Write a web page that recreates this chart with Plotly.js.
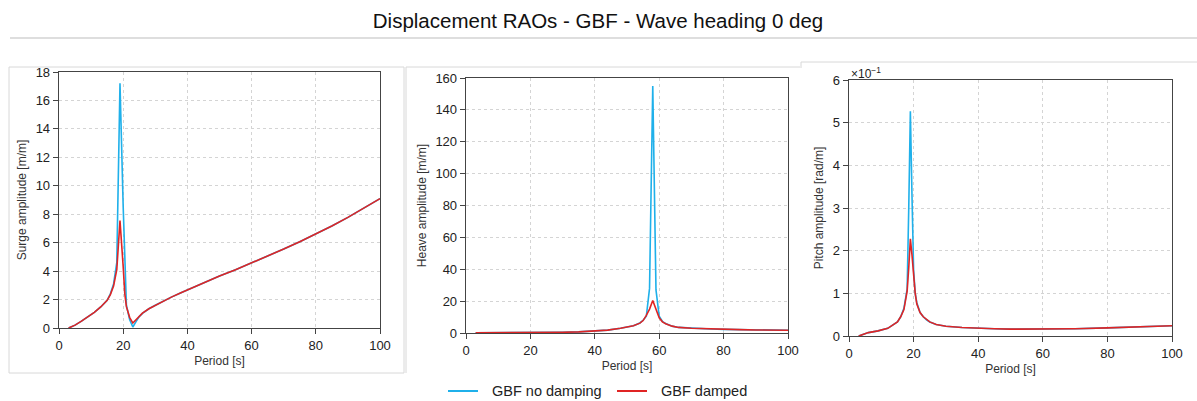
<!DOCTYPE html>
<html>
<head>
<meta charset="utf-8">
<script src="https://cdn.plot.ly/plotly-3.0.1.min.js"></script>
<style>html,body{margin:0;padding:0;background:#fff;}#chart{width:1197px;height:401px;}</style>
</head>
<body>
<div id="chart"></div>
<script>
// ---- Data ----
const surgePeriod   = [3,5,7,9,11,13,15,16,17,18,19,20,20.5,21,22,23,24,25,26,28,30,32,35,38,40,45,50,55,60,65,70,75,80,85,90,95,100];
const surgeNoDamp   = [0,0.2,0.48,0.78,1.1,1.48,1.95,2.4,3.1,4.6,17.2,8.5,4.5,1.6,0.6,0.07,0.45,0.8,1.03,1.35,1.6,1.85,2.17,2.48,2.68,3.17,3.65,4.1,4.57,5.05,5.55,6.07,6.6,7.17,7.78,8.42,9.1];
const surgeDamped   = [0,0.2,0.48,0.78,1.1,1.48,1.95,2.35,2.95,4.1,7.55,4.3,2.4,1.5,0.75,0.35,0.6,0.85,1.05,1.35,1.6,1.85,2.17,2.48,2.68,3.17,3.65,4.1,4.57,5.05,5.55,6.07,6.6,7.17,7.78,8.42,9.1];

const heavePeriod   = [3,5,10,15,20,25,30,35,40,44,48,50,52,54,55,56,57,58,59,60,61,62,64,66,70,76,80,85,90,95,100];
const heaveNoDamp   = [0.1,0.1,0.15,0.2,0.25,0.3,0.45,0.7,1.2,1.8,3.0,3.6,4.6,6.3,8.0,10.5,28,155,27,10.5,7.3,5.9,4.3,3.5,3.0,2.5,2.3,2.1,1.9,1.8,1.7];
const heaveDamped   = [0.1,0.1,0.15,0.2,0.25,0.3,0.45,0.7,1.2,1.8,3.0,3.6,4.6,6.2,7.8,11,15,20.4,15,9.5,7.0,5.8,4.3,3.5,3.0,2.5,2.3,2.1,1.9,1.8,1.7];

const pitchPeriod   = [3,4,6,9,12,15,16,17,18,18.5,19,19.5,20,20.5,21,22,23,24,25,27,30,35,40,45,50,60,70,80,90,100];
const pitchNoDamp   = [0,0.003,0.008,0.012,0.018,0.033,0.045,0.065,0.11,0.30,0.527,0.33,0.155,0.1,0.078,0.055,0.045,0.038,0.033,0.027,0.023,0.02,0.018,0.017,0.016,0.016,0.017,0.019,0.021,0.024];
const pitchDamped   = [0,0.003,0.008,0.012,0.018,0.033,0.045,0.062,0.105,0.16,0.228,0.19,0.135,0.1,0.075,0.055,0.045,0.038,0.033,0.027,0.023,0.02,0.018,0.017,0.016,0.016,0.017,0.019,0.021,0.024];

const xTicks = [0,20,40,60,80,100];
const pitchTickVals = [0,0.1,0.2,0.3,0.4,0.5,0.6];
const pitchTickText = ['0','1','2','3','4','5','6'];

const seriesNames = ['GBF no damping','GBF damped'];
const blue = '#1fb0ea', red = '#e02424';

const W = 1197, H = 401;
const px = v => v / W;
const py = v => 1 - v / H;
const FF = 'Arial, Liberation Sans, sans-serif';

function tr(x, y, name, color, xa, ya) {
  return {x: x, y: y, name: name, type: 'scatter', mode: 'lines',
    line: {color: color, width: 1.6}, xaxis: xa, yaxis: ya, showlegend: false};
}

const data = [
  tr(surgePeriod, surgeNoDamp, seriesNames[0], blue, 'x', 'y'),
  tr(surgePeriod, surgeDamped, seriesNames[1], red, 'x', 'y'),
  tr(heavePeriod, heaveNoDamp, seriesNames[0], blue, 'x2', 'y2'),
  tr(heavePeriod, heaveDamped, seriesNames[1], red, 'x2', 'y2'),
  tr(pitchPeriod, pitchNoDamp, seriesNames[0], blue, 'x3', 'y3'),
  tr(pitchPeriod, pitchDamped, seriesNames[1], red, 'x3', 'y3')
];

const tickFont = {family: FF, size: 13, color: '#222'};
const titleFont = {family: FF, size: 12, color: '#333'};

function xax(dom, anchor) {
  return {domain: dom, anchor: anchor, range: [0, 100], tickvals: xTicks,
    showline: true, mirror: true, linecolor: '#444', linewidth: 1.3,
    ticks: 'outside', ticklen: 5, tickcolor: '#444', tickfont: tickFont,
    showgrid: true, gridcolor: '#d4d4d4', griddash: 'dot', gridwidth: 1,
    zeroline: false, automargin: false,
    title: {text: 'Period [s]', font: titleFont, standoff: 4}};
}
function yax(dom, anchor, range, title, extra) {
  return Object.assign({domain: dom, anchor: anchor, range: range,
    showline: true, mirror: true, linecolor: '#444', linewidth: 1.3,
    ticks: 'outside', ticklen: 5, tickcolor: '#444', tickfont: tickFont,
    showgrid: true, gridcolor: '#d4d4d4', griddash: 'dot', gridwidth: 1,
    zeroline: false, automargin: false,
    title: {text: title, font: titleFont, standoff: 6}}, extra || {});
}

// custom legend (line sample + text) placed in paper coordinates
const legendItems = [
  {name: seriesNames[0], color: blue, lx0: 448, lx1: 478, tx: 490},
  {name: seriesNames[1], color: red,  lx0: 617, lx1: 647, tx: 659}
];
const legendY = 391;

const shapes = [
  {type: 'line', xref: 'paper', yref: 'paper', x0: px(10), x1: 1, y0: py(38), y1: py(38),
   line: {color: '#bdbdbd', width: 1.2}},
  {type: 'rect', xref: 'paper', yref: 'paper', x0: px(9), x1: px(404), y0: py(373), y1: py(67),
   line: {color: '#d8d8d8', width: 1}},
  {type: 'line', xref: 'paper', yref: 'paper', x0: px(406), x1: px(800), y0: py(67), y1: py(67),
   line: {color: '#d8d8d8', width: 1}},
  {type: 'line', xref: 'paper', yref: 'paper', x0: px(406), x1: px(406), y0: py(67), y1: py(373),
   line: {color: '#d8d8d8', width: 1}},
  {type: 'line', xref: 'paper', yref: 'paper', x0: px(801), x1: 1, y0: py(62), y1: py(62),
   line: {color: '#d8d8d8', width: 1}},
  {type: 'line', xref: 'paper', yref: 'paper', x0: px(801), x1: px(801), y0: py(62), y1: py(68),
   line: {color: '#d8d8d8', width: 1}}
];
const annotations = [
  {text: '×10<sup>−1</sup>', xref: 'paper', yref: 'paper', x: px(849), y: py(73),
   xanchor: 'left', yanchor: 'middle', showarrow: false,
   font: {family: FF, size: 12, color: '#222'}}
];
legendItems.forEach(it => {
  shapes.push({type: 'line', xref: 'paper', yref: 'paper', x0: px(it.lx0), x1: px(it.lx1),
    y0: py(legendY), y1: py(legendY), line: {color: it.color, width: 2}});
  annotations.push({text: it.name, xref: 'paper', yref: 'paper', x: px(it.tx), y: py(legendY),
    xanchor: 'left', yanchor: 'middle', showarrow: false,
    font: {family: FF, size: 14.5, color: '#222'}});
});

const layout = {
  width: W, height: H,
  margin: {l: 0, r: 0, t: 0, b: 0},
  paper_bgcolor: '#fff', plot_bgcolor: '#fff',
  font: {family: FF, color: '#222'},
  title: {text: 'Displacement RAOs - GBF - Wave heading 0 deg',
    font: {family: FF, size: 20.5, color: '#111'},
    x: px(598), xanchor: 'center', y: py(21), yanchor: 'middle', xref: 'paper', yref: 'paper'},
  xaxis:  xax([px(59), px(380)], 'y'),
  yaxis:  yax([py(328), py(72)], 'x', [0, 18], 'Surge amplitude [m/m]', {dtick: 2}),
  xaxis2: xax([px(466), px(788)], 'y2'),
  yaxis2: yax([py(333), py(78)], 'x2', [0, 160], 'Heave amplitude [m/m]', {dtick: 20}),
  xaxis3: xax([px(849), px(1172)], 'y3'),
  yaxis3: yax([py(336), py(80)], 'x3', [0, 0.6], 'Pitch amplitude [rad/m]', {tickvals: pitchTickVals, ticktext: pitchTickText}),
  showlegend: false,
  annotations: annotations,
  shapes: shapes
};

Plotly.newPlot('chart', data, layout, {displayModeBar: false, staticPlot: true});
</script>
</body>
</html>
